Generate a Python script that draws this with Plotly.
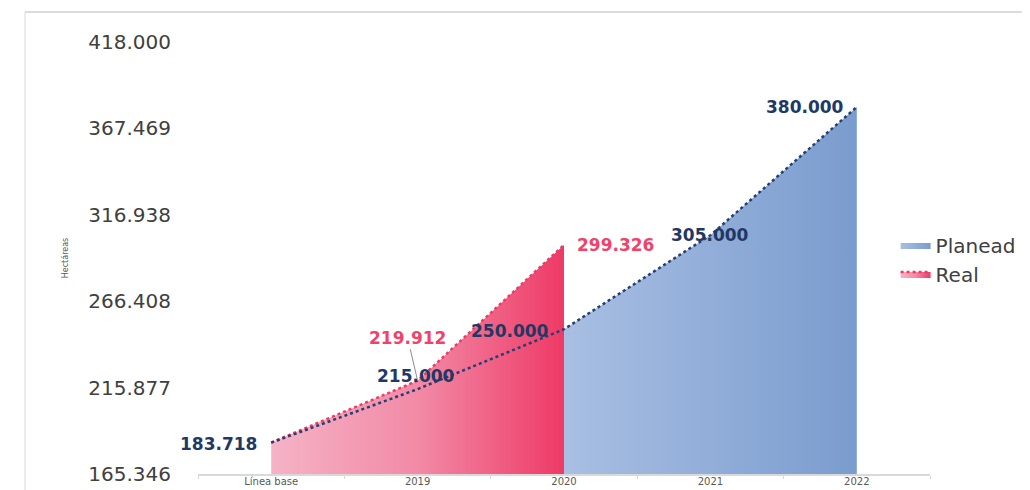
import plotly.graph_objects as go

categories = ["Línea base", "2019", "2020", "2021", "2022"]
planeado = [183718, 215000, 250000, 305000, 380000]
real = [183718, 219912, 299326]
ytick_vals = [165346, 215877, 266408, 316938, 367469, 418000]

NAVY = "#1f3864"
PINK = "#f0426a"


def fmt(v):
    return f"{v:,}".replace(",", ".")


fig = go.Figure()

# Planead filled area (visible portion from 2020 on)
fig.add_trace(go.Scatter(
    x=categories[2:], y=planeado[2:], name="Planead", mode="lines",
    line=dict(width=0, color="#8fabd8"), fill="tozeroy",
    fillgradient=dict(type="horizontal",
                      colorscale=[[0, "#a9bfe3"], [1, "#7a9cce"]]),
))

# Real filled area
fig.add_trace(go.Scatter(
    x=categories[:len(real)], y=real, name="Real", mode="lines",
    line=dict(width=2.5, color="#ec3c66", dash="dot"), fill="tozeroy",
    fillgradient=dict(type="horizontal",
                      colorscale=[[0, "#f5b3c6"], [0.5, "#f28aa6"], [1, "#ee3a66"]]),
))

# Planead dotted line across all categories
fig.add_trace(go.Scatter(
    x=categories, y=planeado, mode="lines", showlegend=False,
    line=dict(width=2.5, color="#243f73", dash="dot"), hoverinfo="skip",
))

lab_font_n = dict(family="DejaVu Sans", size=17, color=NAVY, weight="bold")
lab_font_p = dict(family="DejaVu Sans", size=17, color=PINK, weight="bold")

# Planead labels: (index, xanchor, xshift, yshift)
plan_pos = [(0, "right", -12, -1), (1, "center", -2, 13), (2, "right", -13, -2),
            (3, "center", 0, 0), (4, "right", -11, 0)]
for i, xa, xs, ys in plan_pos:
    fig.add_annotation(x=i, y=planeado[i], text=fmt(planeado[i]),
                       showarrow=False, xanchor=xa, yanchor="middle",
                       xshift=xs, yshift=ys, font=lab_font_n)

# Real labels
fig.add_annotation(x=1, y=real[1], text=fmt(real[1]),
                   showarrow=True, arrowhead=0, arrowwidth=1, arrowcolor="#8c8c8c",
                   ax=-10, ay=-43, standoff=2, font=lab_font_p)
fig.add_annotation(x=2, y=real[2], text=fmt(real[2]),
                   showarrow=False, xanchor="left", yanchor="middle",
                   xshift=11, font=lab_font_p)

# chart frame lines
fig.add_shape(type="line", xref="paper", yref="paper", x0=-0.2363, x1=1.2,
              y0=1.0694, y1=1.0694, line=dict(color="#d0d0d0", width=1.5))
fig.add_shape(type="line", xref="paper", yref="paper", x0=-0.2363, x1=-0.2363,
              y0=1.0694, y1=-0.1, line=dict(color="#d9d9d9", width=1))

fig.update_layout(
    width=1030, height=490,
    margin=dict(l=190, r=108, t=34, b=24),
    paper_bgcolor="white", plot_bgcolor="white",
    separators=",.",
    showlegend=True,
    legend=dict(x=0.953, xanchor="left", y=0.575, yanchor="top",
                font=dict(family="DejaVu Sans", size=20, color="#404040"),
                traceorder="normal", bgcolor="rgba(0,0,0,0)", itemwidth=30),
    xaxis=dict(type="category", categoryorder="array", categoryarray=categories,
               range=[-0.5, 4.5], showgrid=False, showline=True, linecolor="#d9d9d9",
               linewidth=1.5, ticks="outside", tickson="boundaries", ticklen=3,
               tickcolor="#d9d9d9", automargin=False, ticklabelstandoff=-3,
               tickfont=dict(family="DejaVu Sans", size=10, color="#595959")),
    yaxis=dict(range=[165346, 418000], tickvals=ytick_vals, tickformat=",d",
               showgrid=False, zeroline=False, showline=False,
               ticklabelstandoff=26, automargin=False,
               tickfont=dict(family="DejaVu Sans", size=20, color="#404040"),
               title=dict(text="Hectáreas", standoff=18,
                          font=dict(family="DejaVu Sans", size=8, color="#595959"))),
)

fig.write_html("out.html")
